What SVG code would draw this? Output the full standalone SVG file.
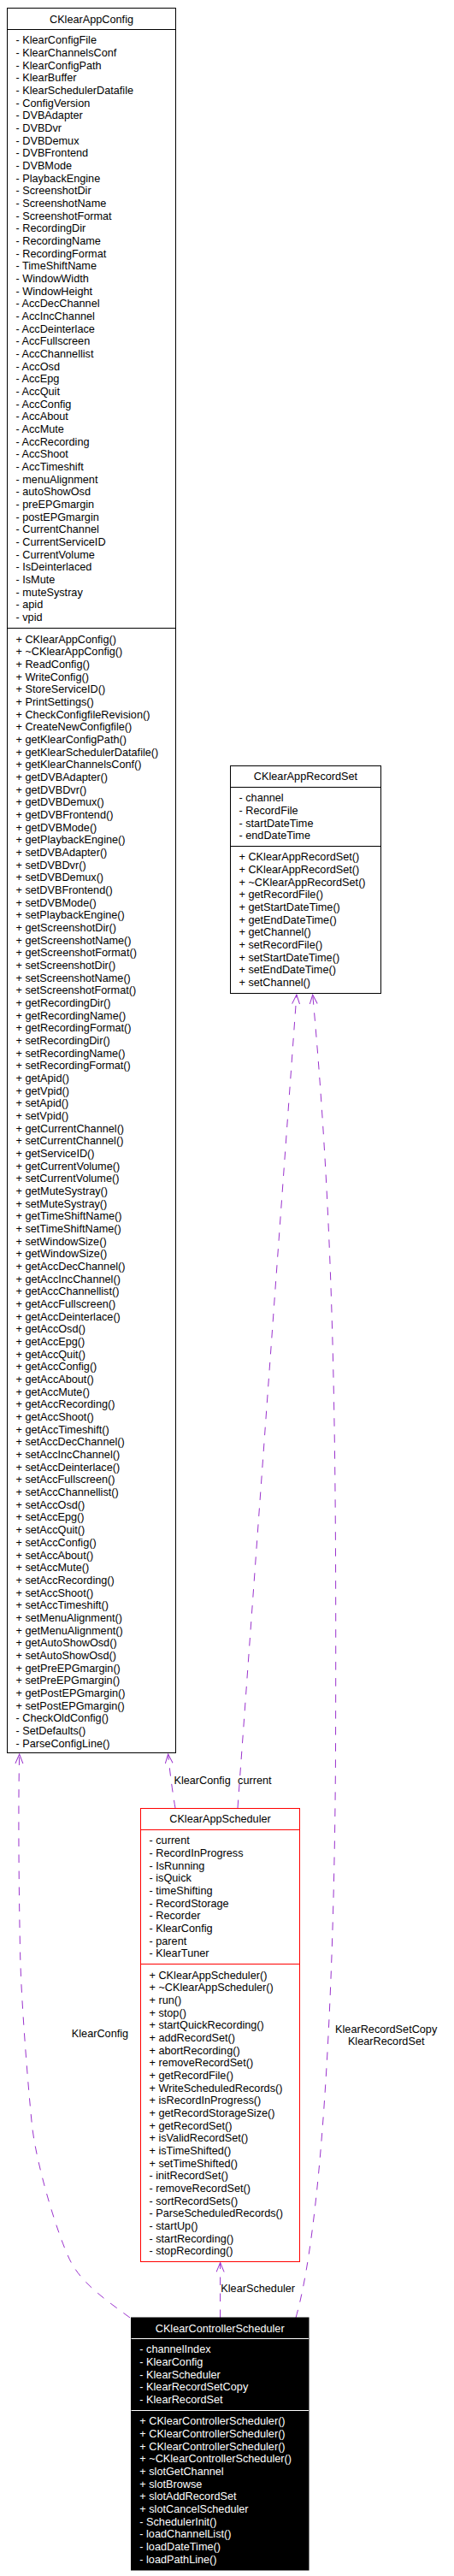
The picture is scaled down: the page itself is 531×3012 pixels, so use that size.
<svg xmlns="http://www.w3.org/2000/svg" width="531" height="3012" viewBox="0 0 531 3012">
<style>
.box{fill:#fff;stroke:#000;stroke-width:1}
.red{fill:#fff;stroke:#f00;stroke-width:1}
.blk{fill:#000;stroke:#000;stroke-width:1}
.sep{stroke:#000;stroke-width:1}
.sepr{stroke:#f00;stroke-width:1}
.sepw{stroke:#fff;stroke-width:1}
text{font-family:"Liberation Sans",Arial,Helvetica,sans-serif;font-size:12.7px;fill:#000}
.w{fill:#fff}
.c{text-anchor:middle}
.e{fill:none;stroke:#9a32cd;stroke-width:1;stroke-dasharray:9.5,9.5}
</style>
<defs>
<marker id="arr" markerUnits="userSpaceOnUse" markerWidth="14" markerHeight="12" refX="11" refY="5" orient="auto" viewBox="0 0 14 12">
<path d="M0,0.5 L11,5 L0,9.5" fill="none" stroke="#9a32cd" stroke-width="1"/>
</marker>
</defs>
<rect width="531" height="3012" fill="#fff"/>

<g id="edges">
<path class="e" d="M152,2710 C125,2690 95,2670 81.4,2641.8 C67,2612 42,2530 37.3,2483.5 C32,2430 25,2340 23.7,2288 C22.4,2230 21,2120 22.7,2051" marker-end="url(#arr)"/>
<path class="e" d="M205,2114 Q200,2085 196.6,2051" marker-end="url(#arr)"/>
<path class="e" d="M278,2114 L346.9,1163" marker-end="url(#arr)"/>
<path class="e" d="M346,2710 C375,2610 391,2350 392.5,2050 C393.5,1700 392,1450 365.7,1163" marker-end="url(#arr)"/>
<path class="e" d="M257.6,2710 L257.6,2645.5" marker-end="url(#arr)"/>
<text class="c" x="117" y="2382">KlearConfig</text>
<text class="c" x="236.6" y="2085.7">KlearConfig</text>
<text class="c" x="297.8" y="2085.7">current</text>
<text class="c" x="301.7" y="2680.2">KlearScheduler</text>
<text class="c" x="451.7" y="2377.2">KlearRecordSetCopy</text>
<text class="c" x="451.7" y="2391.2">KlearRecordSet</text>
</g>

<g id="CKlearAppConfig">
<rect class="box" x="8.5" y="9.5" width="197" height="2040"/>
<line class="sep" x1="8.5" y1="34.5" x2="205.5" y2="34.5"/>
<line class="sep" x1="8.5" y1="734.5" x2="205.5" y2="734.5"/>
<text class="c" x="107" y="27.2">CKlearAppConfig</text>
<text x="18.5" y="51.3"><tspan x="18.5">- KlearConfigFile</tspan><tspan x="18.5" dy="14.67">- KlearChannelsConf</tspan><tspan x="18.5" dy="14.67">- KlearConfigPath</tspan><tspan x="18.5" dy="14.67">- KlearBuffer</tspan><tspan x="18.5" dy="14.67">- KlearSchedulerDatafile</tspan><tspan x="18.5" dy="14.67">- ConfigVersion</tspan><tspan x="18.5" dy="14.67">- DVBAdapter</tspan><tspan x="18.5" dy="14.67">- DVBDvr</tspan><tspan x="18.5" dy="14.67">- DVBDemux</tspan><tspan x="18.5" dy="14.67">- DVBFrontend</tspan><tspan x="18.5" dy="14.67">- DVBMode</tspan><tspan x="18.5" dy="14.67">- PlaybackEngine</tspan><tspan x="18.5" dy="14.67">- ScreenshotDir</tspan><tspan x="18.5" dy="14.67">- ScreenshotName</tspan><tspan x="18.5" dy="14.67">- ScreenshotFormat</tspan><tspan x="18.5" dy="14.67">- RecordingDir</tspan><tspan x="18.5" dy="14.67">- RecordingName</tspan><tspan x="18.5" dy="14.67">- RecordingFormat</tspan><tspan x="18.5" dy="14.67">- TimeShiftName</tspan><tspan x="18.5" dy="14.67">- WindowWidth</tspan><tspan x="18.5" dy="14.67">- WindowHeight</tspan><tspan x="18.5" dy="14.67">- AccDecChannel</tspan><tspan x="18.5" dy="14.67">- AccIncChannel</tspan><tspan x="18.5" dy="14.67">- AccDeinterlace</tspan><tspan x="18.5" dy="14.67">- AccFullscreen</tspan><tspan x="18.5" dy="14.67">- AccChannellist</tspan><tspan x="18.5" dy="14.67">- AccOsd</tspan><tspan x="18.5" dy="14.67">- AccEpg</tspan><tspan x="18.5" dy="14.67">- AccQuit</tspan><tspan x="18.5" dy="14.67">- AccConfig</tspan><tspan x="18.5" dy="14.67">- AccAbout</tspan><tspan x="18.5" dy="14.67">- AccMute</tspan><tspan x="18.5" dy="14.67">- AccRecording</tspan><tspan x="18.5" dy="14.67">- AccShoot</tspan><tspan x="18.5" dy="14.67">- AccTimeshift</tspan><tspan x="18.5" dy="14.67">- menuAlignment</tspan><tspan x="18.5" dy="14.67">- autoShowOsd</tspan><tspan x="18.5" dy="14.67">- preEPGmargin</tspan><tspan x="18.5" dy="14.67">- postEPGmargin</tspan><tspan x="18.5" dy="14.67">- CurrentChannel</tspan><tspan x="18.5" dy="14.67">- CurrentServiceID</tspan><tspan x="18.5" dy="14.67">- CurrentVolume</tspan><tspan x="18.5" dy="14.67">- IsDeinterlaced</tspan><tspan x="18.5" dy="14.67">- IsMute</tspan><tspan x="18.5" dy="14.67">- muteSystray</tspan><tspan x="18.5" dy="14.67">- apid</tspan><tspan x="18.5" dy="14.67">- vpid</tspan></text>
<text x="18.5" y="751.6"><tspan x="18.5">+ CKlearAppConfig()</tspan><tspan x="18.5" dy="14.67">+ ~CKlearAppConfig()</tspan><tspan x="18.5" dy="14.67">+ ReadConfig()</tspan><tspan x="18.5" dy="14.67">+ WriteConfig()</tspan><tspan x="18.5" dy="14.67">+ StoreServiceID()</tspan><tspan x="18.5" dy="14.67">+ PrintSettings()</tspan><tspan x="18.5" dy="14.67">+ CheckConfigfileRevision()</tspan><tspan x="18.5" dy="14.67">+ CreateNewConfigfile()</tspan><tspan x="18.5" dy="14.67">+ getKlearConfigPath()</tspan><tspan x="18.5" dy="14.67">+ getKlearSchedulerDatafile()</tspan><tspan x="18.5" dy="14.67">+ getKlearChannelsConf()</tspan><tspan x="18.5" dy="14.67">+ getDVBAdapter()</tspan><tspan x="18.5" dy="14.67">+ getDVBDvr()</tspan><tspan x="18.5" dy="14.67">+ getDVBDemux()</tspan><tspan x="18.5" dy="14.67">+ getDVBFrontend()</tspan><tspan x="18.5" dy="14.67">+ getDVBMode()</tspan><tspan x="18.5" dy="14.67">+ getPlaybackEngine()</tspan><tspan x="18.5" dy="14.67">+ setDVBAdapter()</tspan><tspan x="18.5" dy="14.67">+ setDVBDvr()</tspan><tspan x="18.5" dy="14.67">+ setDVBDemux()</tspan><tspan x="18.5" dy="14.67">+ setDVBFrontend()</tspan><tspan x="18.5" dy="14.67">+ setDVBMode()</tspan><tspan x="18.5" dy="14.67">+ setPlaybackEngine()</tspan><tspan x="18.5" dy="14.67">+ getScreenshotDir()</tspan><tspan x="18.5" dy="14.67">+ getScreenshotName()</tspan><tspan x="18.5" dy="14.67">+ getScreenshotFormat()</tspan><tspan x="18.5" dy="14.67">+ setScreenshotDir()</tspan><tspan x="18.5" dy="14.67">+ setScreenshotName()</tspan><tspan x="18.5" dy="14.67">+ setScreenshotFormat()</tspan><tspan x="18.5" dy="14.67">+ getRecordingDir()</tspan><tspan x="18.5" dy="14.67">+ getRecordingName()</tspan><tspan x="18.5" dy="14.67">+ getRecordingFormat()</tspan><tspan x="18.5" dy="14.67">+ setRecordingDir()</tspan><tspan x="18.5" dy="14.67">+ setRecordingName()</tspan><tspan x="18.5" dy="14.67">+ setRecordingFormat()</tspan><tspan x="18.5" dy="14.67">+ getApid()</tspan><tspan x="18.5" dy="14.67">+ getVpid()</tspan><tspan x="18.5" dy="14.67">+ setApid()</tspan><tspan x="18.5" dy="14.67">+ setVpid()</tspan><tspan x="18.5" dy="14.67">+ getCurrentChannel()</tspan><tspan x="18.5" dy="14.67">+ setCurrentChannel()</tspan><tspan x="18.5" dy="14.67">+ getServiceID()</tspan><tspan x="18.5" dy="14.67">+ getCurrentVolume()</tspan><tspan x="18.5" dy="14.67">+ setCurrentVolume()</tspan><tspan x="18.5" dy="14.67">+ getMuteSystray()</tspan><tspan x="18.5" dy="14.67">+ setMuteSystray()</tspan><tspan x="18.5" dy="14.67">+ getTimeShiftName()</tspan><tspan x="18.5" dy="14.67">+ setTimeShiftName()</tspan><tspan x="18.5" dy="14.67">+ setWindowSize()</tspan><tspan x="18.5" dy="14.67">+ getWindowSize()</tspan><tspan x="18.5" dy="14.67">+ getAccDecChannel()</tspan><tspan x="18.5" dy="14.67">+ getAccIncChannel()</tspan><tspan x="18.5" dy="14.67">+ getAccChannellist()</tspan><tspan x="18.5" dy="14.67">+ getAccFullscreen()</tspan><tspan x="18.5" dy="14.67">+ getAccDeinterlace()</tspan><tspan x="18.5" dy="14.67">+ getAccOsd()</tspan><tspan x="18.5" dy="14.67">+ getAccEpg()</tspan><tspan x="18.5" dy="14.67">+ getAccQuit()</tspan><tspan x="18.5" dy="14.67">+ getAccConfig()</tspan><tspan x="18.5" dy="14.67">+ getAccAbout()</tspan><tspan x="18.5" dy="14.67">+ getAccMute()</tspan><tspan x="18.5" dy="14.67">+ getAccRecording()</tspan><tspan x="18.5" dy="14.67">+ getAccShoot()</tspan><tspan x="18.5" dy="14.67">+ getAccTimeshift()</tspan><tspan x="18.5" dy="14.67">+ setAccDecChannel()</tspan><tspan x="18.5" dy="14.67">+ setAccIncChannel()</tspan><tspan x="18.5" dy="14.67">+ setAccDeinterlace()</tspan><tspan x="18.5" dy="14.67">+ setAccFullscreen()</tspan><tspan x="18.5" dy="14.67">+ setAccChannellist()</tspan><tspan x="18.5" dy="14.67">+ setAccOsd()</tspan><tspan x="18.5" dy="14.67">+ setAccEpg()</tspan><tspan x="18.5" dy="14.67">+ setAccQuit()</tspan><tspan x="18.5" dy="14.67">+ setAccConfig()</tspan><tspan x="18.5" dy="14.67">+ setAccAbout()</tspan><tspan x="18.5" dy="14.67">+ setAccMute()</tspan><tspan x="18.5" dy="14.67">+ setAccRecording()</tspan><tspan x="18.5" dy="14.67">+ setAccShoot()</tspan><tspan x="18.5" dy="14.67">+ setAccTimeshift()</tspan><tspan x="18.5" dy="14.67">+ setMenuAlignment()</tspan><tspan x="18.5" dy="14.67">+ getMenuAlignment()</tspan><tspan x="18.5" dy="14.67">+ getAutoShowOsd()</tspan><tspan x="18.5" dy="14.67">+ setAutoShowOsd()</tspan><tspan x="18.5" dy="14.67">+ getPreEPGmargin()</tspan><tspan x="18.5" dy="14.67">+ setPreEPGmargin()</tspan><tspan x="18.5" dy="14.67">+ getPostEPGmargin()</tspan><tspan x="18.5" dy="14.67">+ setPostEPGmargin()</tspan><tspan x="18.5" dy="14.67">- CheckOldConfig()</tspan><tspan x="18.5" dy="14.67">- SetDefaults()</tspan><tspan x="18.5" dy="14.67">- ParseConfigLine()</tspan></text>
</g>

<g id="CKlearAppRecordSet">
<rect class="box" x="269.5" y="895.5" width="176" height="266"/>
<line class="sep" x1="269.5" y1="920.5" x2="445.5" y2="920.5"/>
<line class="sep" x1="269.5" y1="989.5" x2="445.5" y2="989.5"/>
<text class="c" x="357.5" y="912">CKlearAppRecordSet</text>
<text x="279.5" y="937.3"><tspan x="279.5">- channel</tspan><tspan x="279.5" dy="14.67">- RecordFile</tspan><tspan x="279.5" dy="14.67">- startDateTime</tspan><tspan x="279.5" dy="14.67">- endDateTime</tspan></text>
<text x="279.5" y="1006.3"><tspan x="279.5">+ CKlearAppRecordSet()</tspan><tspan x="279.5" dy="14.67">+ CKlearAppRecordSet()</tspan><tspan x="279.5" dy="14.67">+ ~CKlearAppRecordSet()</tspan><tspan x="279.5" dy="14.67">+ getRecordFile()</tspan><tspan x="279.5" dy="14.67">+ getStartDateTime()</tspan><tspan x="279.5" dy="14.67">+ getEndDateTime()</tspan><tspan x="279.5" dy="14.67">+ getChannel()</tspan><tspan x="279.5" dy="14.67">+ setRecordFile()</tspan><tspan x="279.5" dy="14.67">+ setStartDateTime()</tspan><tspan x="279.5" dy="14.67">+ setEndDateTime()</tspan><tspan x="279.5" dy="14.67">+ setChannel()</tspan></text>
</g>

<g id="CKlearAppScheduler">
<rect class="red" x="164.5" y="2114.5" width="186" height="530"/>
<line class="sepr" x1="164.5" y1="2139.5" x2="350.5" y2="2139.5"/>
<line class="sepr" x1="164.5" y1="2296.5" x2="350.5" y2="2296.5"/>
<text class="c" x="257.5" y="2131.2">CKlearAppScheduler</text>
<text x="174.5" y="2156.3"><tspan x="174.5">- current</tspan><tspan x="174.5" dy="14.67">- RecordInProgress</tspan><tspan x="174.5" dy="14.67">- IsRunning</tspan><tspan x="174.5" dy="14.67">- isQuick</tspan><tspan x="174.5" dy="14.67">- timeShifting</tspan><tspan x="174.5" dy="14.67">- RecordStorage</tspan><tspan x="174.5" dy="14.67">- Recorder</tspan><tspan x="174.5" dy="14.67">- KlearConfig</tspan><tspan x="174.5" dy="14.67">- parent</tspan><tspan x="174.5" dy="14.67">- KlearTuner</tspan></text>
<text x="174.5" y="2313.6"><tspan x="174.5">+ CKlearAppScheduler()</tspan><tspan x="174.5" dy="14.67">+ ~CKlearAppScheduler()</tspan><tspan x="174.5" dy="14.67">+ run()</tspan><tspan x="174.5" dy="14.67">+ stop()</tspan><tspan x="174.5" dy="14.67">+ startQuickRecording()</tspan><tspan x="174.5" dy="14.67">+ addRecordSet()</tspan><tspan x="174.5" dy="14.67">+ abortRecording()</tspan><tspan x="174.5" dy="14.67">+ removeRecordSet()</tspan><tspan x="174.5" dy="14.67">+ getRecordFile()</tspan><tspan x="174.5" dy="14.67">+ WriteScheduledRecords()</tspan><tspan x="174.5" dy="14.67">+ isRecordInProgress()</tspan><tspan x="174.5" dy="14.67">+ getRecordStorageSize()</tspan><tspan x="174.5" dy="14.67">+ getRecordSet()</tspan><tspan x="174.5" dy="14.67">+ isValidRecordSet()</tspan><tspan x="174.5" dy="14.67">+ isTimeShifted()</tspan><tspan x="174.5" dy="14.67">+ setTimeShifted()</tspan><tspan x="174.5" dy="14.67">- initRecordSet()</tspan><tspan x="174.5" dy="14.67">- removeRecordSet()</tspan><tspan x="174.5" dy="14.67">- sortRecordSets()</tspan><tspan x="174.5" dy="14.67">- ParseScheduledRecords()</tspan><tspan x="174.5" dy="14.67">- startUp()</tspan><tspan x="174.5" dy="14.67">- startRecording()</tspan><tspan x="174.5" dy="14.67">- stopRecording()</tspan></text>
</g>

<g id="CKlearControllerScheduler">
<rect class="blk" x="153.5" y="2710" width="207.5" height="295"/>
<line class="sepw" x1="153.5" y1="2734.5" x2="361" y2="2734.5"/>
<line class="sepw" x1="153.5" y1="2818.5" x2="361" y2="2818.5"/>
<text class="c w" x="257.2" y="2726.5">CKlearControllerScheduler</text>
<text class="w" x="163.3" y="2751.3"><tspan x="163.3">- channelIndex</tspan><tspan x="163.3" dy="14.67">- KlearConfig</tspan><tspan x="163.3" dy="14.67">- KlearScheduler</tspan><tspan x="163.3" dy="14.67">- KlearRecordSetCopy</tspan><tspan x="163.3" dy="14.67">- KlearRecordSet</tspan></text>
<text class="w" x="163.3" y="2835.3"><tspan x="163.3">+ CKlearControllerScheduler()</tspan><tspan x="163.3" dy="14.67">+ CKlearControllerScheduler()</tspan><tspan x="163.3" dy="14.67">+ CKlearControllerScheduler()</tspan><tspan x="163.3" dy="14.67">+ ~CKlearControllerScheduler()</tspan><tspan x="163.3" dy="14.67">+ slotGetChannel</tspan><tspan x="163.3" dy="14.67">+ slotBrowse</tspan><tspan x="163.3" dy="14.67">+ slotAddRecordSet</tspan><tspan x="163.3" dy="14.67">+ slotCancelScheduler</tspan><tspan x="163.3" dy="14.67">- SchedulerInit()</tspan><tspan x="163.3" dy="14.67">- loadChannelList()</tspan><tspan x="163.3" dy="14.67">- loadDateTime()</tspan><tspan x="163.3" dy="14.67">- loadPathLine()</tspan></text>
</g>
</svg>
